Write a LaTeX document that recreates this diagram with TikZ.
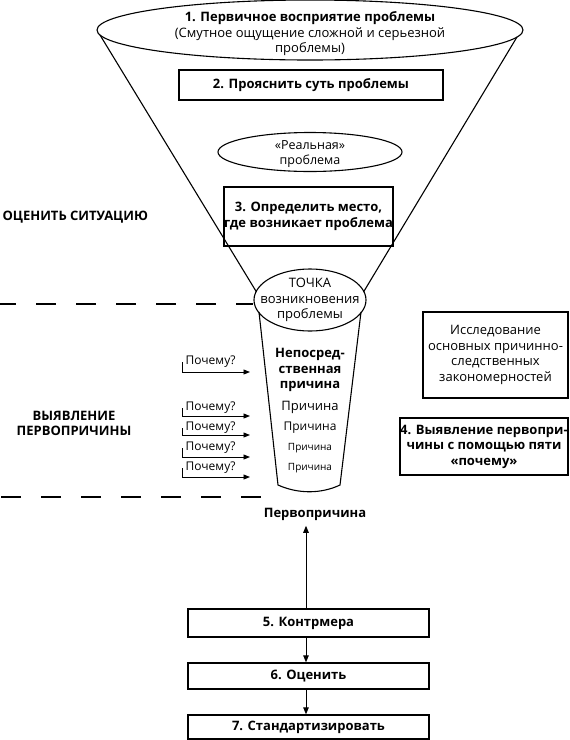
\documentclass[tikz,border=0pt]{standalone}
\usepackage{fontspec}
\setmainfont{Open Sans}
\usetikzlibrary{arrows.meta,shapes.geometric}
\begin{document}
\begin{tikzpicture}[x=1pt,y=-1pt,
  line width=1.1pt,
  txt/.style={font=\fontsize{13}{15.5}\selectfont, align=center, inner sep=0pt},
  bf/.style={font=\fontsize{13}{15.5}\selectfont\bfseries, align=center, inner sep=0pt},
  bx/.style={draw, line width=1.3pt, inner sep=0pt, align=center},
  ell/.style={ellipse, draw, line width=1.1pt, inner sep=0pt},
  arr/.style={-{Triangle[length=7pt,width=5.5pt]}, line width=0.9pt},
  warr/.style={-{Triangle[length=6.5pt,width=5pt]}, line width=0.9pt},
  dsh/.style={dash pattern=on 20pt off 20pt, line width=1.1pt},
  why/.style={font=\fontsize{12}{14}\selectfont, inner sep=0pt, anchor=west}
]
\useasboundingbox (0,0) rectangle (570,740);

% funnel
\node[ell, minimum width=426, minimum height=60] (e1) at (310,30) {};
\node[txt] (t1) at (310,34) {\textbf{1. Первичное восприятие проблемы}\\(Смутное ощущение сложной и серьезной\\проблемы)};
\node[ell, minimum width=112, minimum height=62] (e3) at (310,300) {};
\node[txt] (t3) at (310,300) {ТОЧКА\\возникновения\\проблемы};
\draw (100,35) -- (256.5,292);
\draw (517,37) -- (363.5,292);
\draw (259,312) -- (278,485) .. controls (298,494) and (321,494) .. (340,485) -- (361,312);

\node[bx, bf, minimum width=264, minimum height=30] (b2) at (311,85) {2. Прояснить суть проблемы};
\node[ell, minimum width=184, minimum height=39] (e2) at (310,152) {};
\node[txt, font=\fontsize{12.5}{14.5}\selectfont] (t2) at (310,154) {«Реальная»\\проблема};
\node[bx, bf, minimum width=163, minimum height=59] (b3) at (308.5,216.5) {3. Определить место,\\где возникает проблема};

% cup texts
\node[bf] (c0) at (310,370) {Непосред-\\ственная\\причина};
\node[txt] (c1) at (310,407) {Причина};
\node[txt, font=\fontsize{12}{14}\selectfont] (c2) at (310,428) {Причина};
\node[txt, font=\fontsize{10}{12}\selectfont] (c3) at (310,448) {Причина};
\node[txt, font=\fontsize{10}{12}\selectfont] (c4) at (310,468) {Причина};

% why arrows
\node[why] (w1) at (185,362) {Почему?};
\node[why] (w2) at (185,408) {Почему?};
\node[why] (w3) at (185,428) {Почему?};
\node[why] (w4) at (185,448) {Почему?};
\node[why] (w5) at (185,468) {Почему?};
\coordinate (a1) at (250,372);
\coordinate (a2) at (250,416);
\coordinate (a3) at (250,435);
\coordinate (a4) at (250,457);
\coordinate (a5) at (250,477);
\foreach \i in {1,...,5}{\draw[warr] ([xshift=-3pt]w\i.west) |- (a\i);}

% dashed
\coordinate (d1) at (0,304);
\draw[dsh, dash phase=4pt] (d1) -- (d1 -| e3.west);
\coordinate (d2) at (1,497);
\coordinate (d3) at (268,497);
\draw[dsh] (d2) -- (d3);

% left labels
\node[bf, anchor=west] (l1) at (2,217) {ОЦЕНИТЬ СИТУАЦИЮ};
\node[bf] (l2) at (74,423.5) {ВЫЯВЛЕНИЕ\\ПЕРВОПРИЧИНЫ};

% right boxes
\node[bx, txt, draw, line width=1.3pt, minimum width=145, minimum height=86] (r1) at (495.5,355) {Исследование\\основных причинно-\\следственных\\закономерностей};
\node[bx, bf, draw, line width=1.3pt, minimum width=168, minimum height=57] (r2) at (484,446.5) {4. Выявление первопри-\\чины с помощью пяти\\«почему»};

% bottom
\node[bf] (pp) at (315,514) {Первопричина};
\node[bx, bf, draw, line width=1.3pt, minimum width=241, minimum height=28] (b5) at (308.5,623) {5. Контрмера};
\node[bx, bf, draw, line width=1.3pt, minimum width=241, minimum height=26] (b6) at (308.5,676) {6. Оценить};
\node[bx, bf, draw, line width=1.3pt, minimum width=241, minimum height=24] (b7) at (308.5,727) {7. Стандартизировать};
\draw[arr, shorten >=5pt] ([xshift=-2.5pt]b5.north) -- ([xshift=-2.5pt]b5.north |- pp.south);
\draw[arr] ([xshift=-2.5pt]b5.south) -- ([xshift=-2.5pt]b6.north);
\draw[arr] ([xshift=-2.5pt]b6.south) -- ([xshift=-2.5pt]b7.north);
\end{tikzpicture}
\end{document}
